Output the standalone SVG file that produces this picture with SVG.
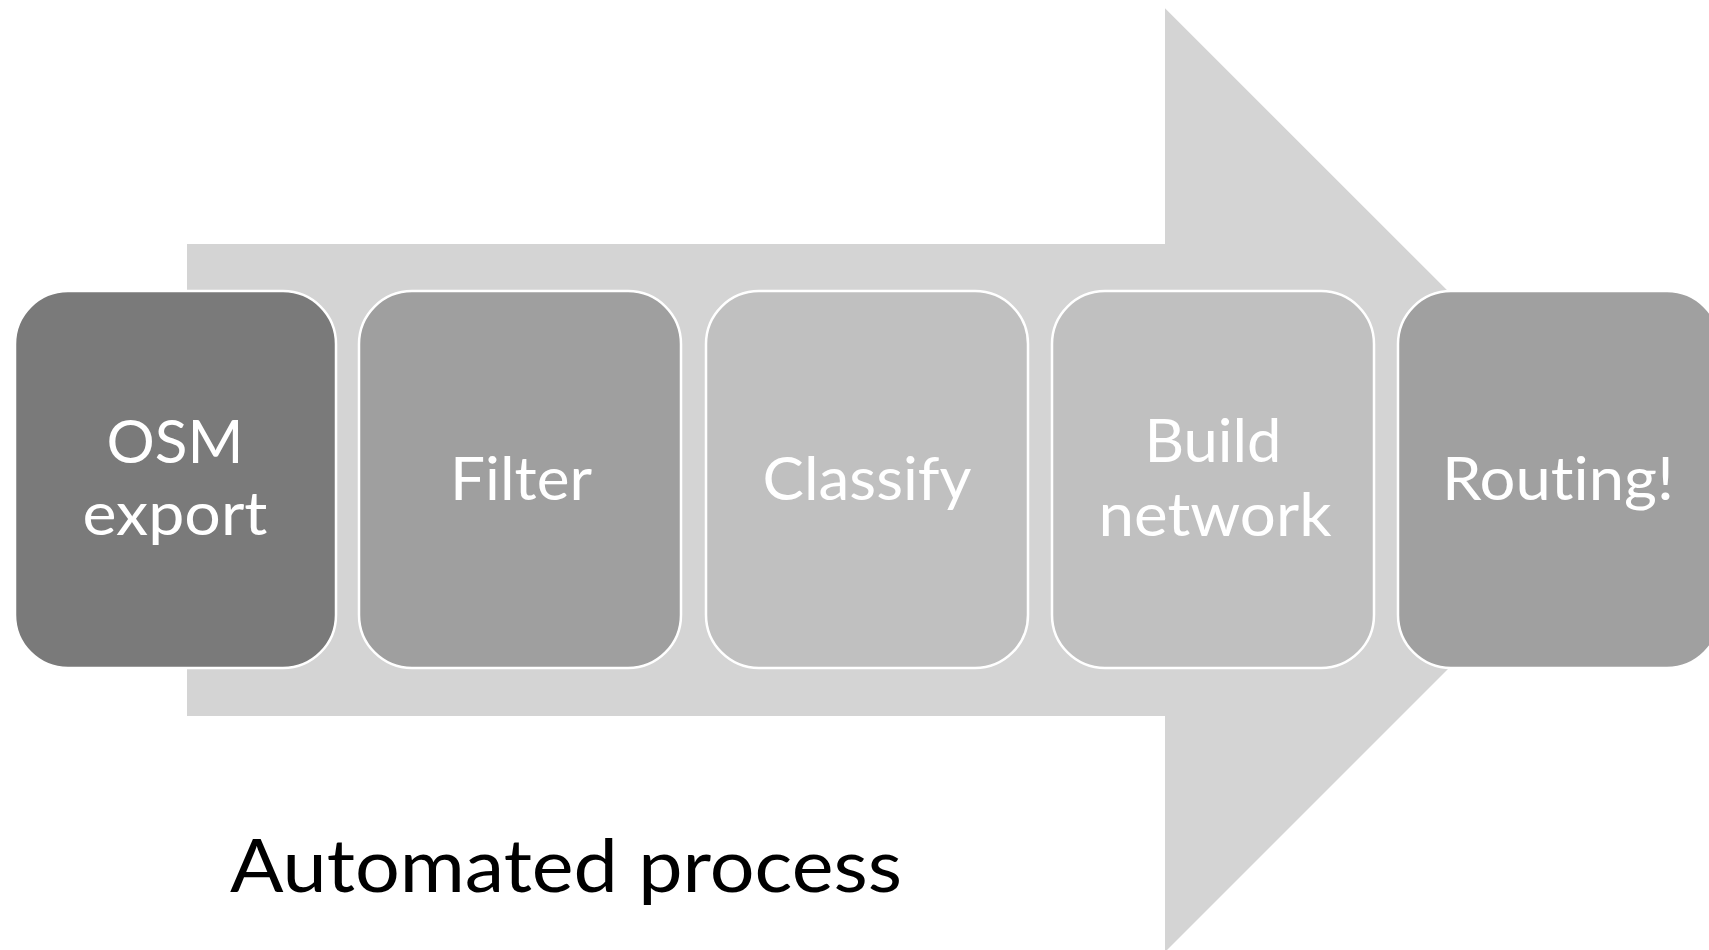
<svg xmlns="http://www.w3.org/2000/svg" width="1709" height="950" viewBox="0 0 1709 950">
  <style>
    .box { stroke: #ffffff; stroke-width: 2.5; }
    .lbl { font-family: Lato, "Open Sans", "Liberation Sans", sans-serif; font-size: 59.5px; fill: #ffffff; text-anchor: middle; font-variant-ligatures: none; font-feature-settings: "liga" 0, "clig" 0, "dlig" 0; }
    .cap { font-family: Lato, "Open Sans", "Liberation Sans", sans-serif; font-size: 73px; fill: #000000; font-variant-ligatures: none; font-feature-settings: "liga" 0, "clig" 0, "dlig" 0; }
  </style>
  <rect width="1709" height="950" fill="#ffffff"/>
  <g id="arrow">
    <polygon points="187,244 1165,244 1165,8.3 1637,480 1165,952 1165,716 187,716" fill="#d4d4d4"/>
  </g>
  <g id="node-osm-export">
    <rect class="box" x="15" y="291" width="321" height="377" rx="53" ry="53" fill="#7a7a7a"/>
    <text class="lbl" x="175" y="463" textLength="137" lengthAdjust="spacingAndGlyphs">OSM</text>
    <text class="lbl" x="175" y="535" textLength="185" lengthAdjust="spacingAndGlyphs">export</text>
  </g>
  <g id="node-filter">
    <rect class="box" x="359" y="291" width="322" height="377" rx="53" ry="53" fill="#9f9f9f"/>
    <text class="lbl" x="521" y="500" textLength="142" lengthAdjust="spacingAndGlyphs">Filter</text>
  </g>
  <g id="node-classify">
    <rect class="box" x="706" y="291" width="322" height="377" rx="53" ry="53" fill="#c0c0c0"/>
    <text class="lbl" x="867" y="500" textLength="209" lengthAdjust="spacingAndGlyphs">Classify</text>
  </g>
  <g id="node-build-network">
    <rect class="box" x="1052" y="291" width="322" height="377" rx="53" ry="53" fill="#c0c0c0"/>
    <text class="lbl" x="1213" y="462" textLength="137" lengthAdjust="spacingAndGlyphs">Build</text>
    <text class="lbl" x="1215" y="536" textLength="233" lengthAdjust="spacingAndGlyphs">network</text>
  </g>
  <g id="node-routing">
    <rect class="box" x="1398" y="291" width="322" height="377" rx="53" ry="53" fill="#a0a0a0"/>
    <text class="lbl" x="1558" y="500" textLength="232" lengthAdjust="spacingAndGlyphs">Routing!</text>
  </g>
  <g id="caption">
    <text class="cap" x="230" y="892" textLength="672" lengthAdjust="spacingAndGlyphs">Automated process</text>
  </g>
</svg>
